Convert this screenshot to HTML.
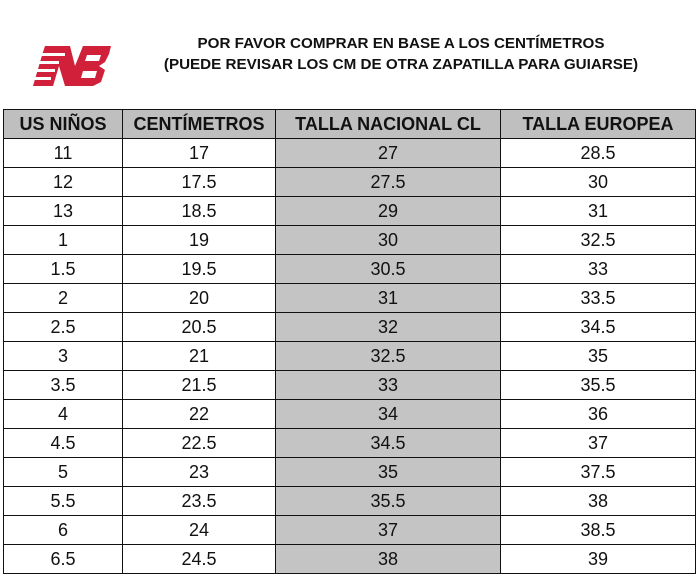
<!DOCTYPE html>
<html><head><style>
body{margin:0;width:699px;height:579px;background:#fff;position:relative;overflow:hidden;font-family:"Liberation Sans",sans-serif}
.t{position:absolute;left:126px;width:550px;text-align:center;font-weight:bold;font-size:15.2px;color:#111}
table{position:absolute;left:3px;top:109px;border-collapse:collapse;}
td,th{border:1.5px solid #111;height:28px;padding:0;text-align:center;font-size:18px;color:#111}
th{background:#bfbfbf;font-size:18px;font-weight:bold}
td:nth-child(3){background:#c4c4c4}
</style></head><body>
<svg style="position:absolute;left:25px;top:42px" width="90" height="48" viewBox="0 0 90 48">
<g fill="#d0203a">
<polygon points="20,4 45,4 50,24 58,4 86,4 84,12 80,20 74,24 80,28 76,40 68,44 40,44 34,24 28,44 8,44 18,10"/>
</g>
<g fill="#fff">
<rect x="0" y="11" width="40" height="3"/>
<rect x="0" y="19" width="34" height="3"/>
<rect x="0" y="27" width="30" height="3"/>
<rect x="0" y="35" width="26" height="3"/>
<polygon points="62,13 76,13 74,19 60,19"/>
<polygon points="58,29 72,29 70,36 56,36"/>
</g>
</svg>
<div class="t" style="top:35px">POR FAVOR COMPRAR EN BASE A LOS CENTÍMETROS</div>
<div class="t" style="top:56px">(PUEDE REVISAR LOS CM DE OTRA ZAPATILLA PARA GUIARSE)</div>
<table>
<tr><th style="width:118px">US NIÑOS</th><th style="width:152px">CENTÍMETROS</th><th style="width:224px">TALLA NACIONAL CL</th><th style="width:194px">TALLA EUROPEA</th></tr>
<tr><td>11</td><td>17</td><td>27</td><td>28.5</td></tr>
<tr><td>12</td><td>17.5</td><td>27.5</td><td>30</td></tr>
<tr><td>13</td><td>18.5</td><td>29</td><td>31</td></tr>
<tr><td>1</td><td>19</td><td>30</td><td>32.5</td></tr>
<tr><td>1.5</td><td>19.5</td><td>30.5</td><td>33</td></tr>
<tr><td>2</td><td>20</td><td>31</td><td>33.5</td></tr>
<tr><td>2.5</td><td>20.5</td><td>32</td><td>34.5</td></tr>
<tr><td>3</td><td>21</td><td>32.5</td><td>35</td></tr>
<tr><td>3.5</td><td>21.5</td><td>33</td><td>35.5</td></tr>
<tr><td>4</td><td>22</td><td>34</td><td>36</td></tr>
<tr><td>4.5</td><td>22.5</td><td>34.5</td><td>37</td></tr>
<tr><td>5</td><td>23</td><td>35</td><td>37.5</td></tr>
<tr><td>5.5</td><td>23.5</td><td>35.5</td><td>38</td></tr>
<tr><td>6</td><td>24</td><td>37</td><td>38.5</td></tr>
<tr><td>6.5</td><td>24.5</td><td>38</td><td>39</td></tr>
</table>
</body></html>
